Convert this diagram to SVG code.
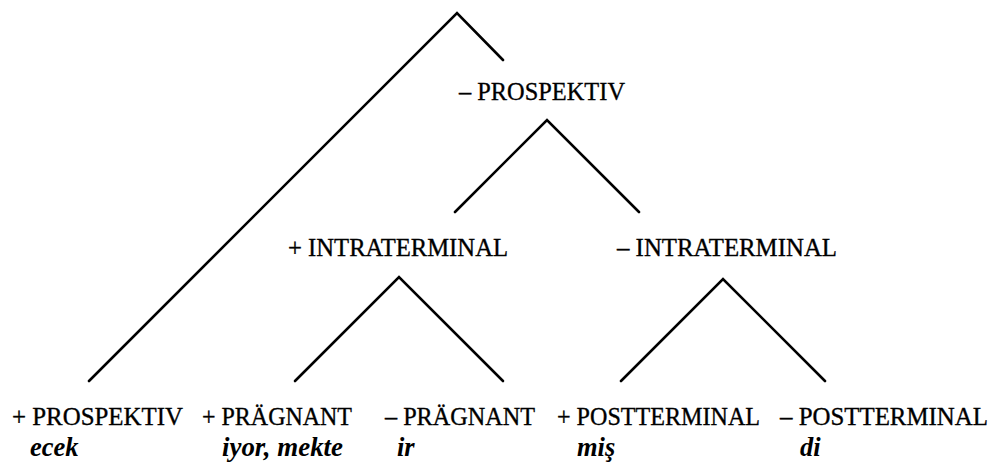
<svg xmlns="http://www.w3.org/2000/svg" width="997" height="471" viewBox="0 0 997 471">
<style>
.l{stroke:#000;stroke-width:2.6;fill:none;stroke-linecap:round;stroke-linejoin:miter}
.t{font-family:"Liberation Serif","Times New Roman",serif;font-size:26px;fill:#000;stroke:#000;stroke-width:0.35}
.i{font-family:"Liberation Serif","Times New Roman",serif;font-size:26.5px;font-style:italic;font-weight:bold;fill:#000}
</style>
<rect width="997" height="471" fill="#fff"/>
<g id="connectors">
<polyline class="l" points="89,381 457,13 503,60"/>
<polyline class="l" points="455,212 547,120 639,212"/>
<polyline class="l" points="295,381 399,277 503,381"/>
<polyline class="l" points="621,381 723,279 825,381"/>
</g>
<g id="n-minus-prospektiv"><text class="t" x="459" y="100" textLength="166" lengthAdjust="spacingAndGlyphs">– PROSPEKTIV</text></g>
<g id="n-plus-intraterminal"><text class="t" x="288" y="256" textLength="220" lengthAdjust="spacingAndGlyphs">+ INTRATERMINAL</text></g>
<g id="n-minus-intraterminal"><text class="t" x="617" y="256" textLength="220" lengthAdjust="spacingAndGlyphs">– INTRATERMINAL</text></g>
<g id="n-plus-prospektiv"><text class="t" x="12" y="425" textLength="171" lengthAdjust="spacingAndGlyphs">+ PROSPEKTIV</text><text class="i" x="30" y="456">ecek</text></g>
<g id="n-plus-praegnant"><text class="t" x="202" y="425" textLength="150" lengthAdjust="spacingAndGlyphs">+ PRÄGNANT</text><text class="i" x="222" y="456" textLength="121" lengthAdjust="spacingAndGlyphs">iyor, mekte</text></g>
<g id="n-minus-praegnant"><text class="t" x="385" y="425" textLength="150" lengthAdjust="spacingAndGlyphs">– PRÄGNANT</text><text class="i" x="397" y="456">ir</text></g>
<g id="n-plus-postterminal"><text class="t" x="557" y="425" textLength="203" lengthAdjust="spacingAndGlyphs">+ POSTTERMINAL</text><text class="i" x="577" y="456">miş</text></g>
<g id="n-minus-postterminal"><text class="t" x="780" y="425" textLength="208" lengthAdjust="spacingAndGlyphs">– POSTTERMINAL</text><text class="i" x="800" y="456">di</text></g>
</svg>
